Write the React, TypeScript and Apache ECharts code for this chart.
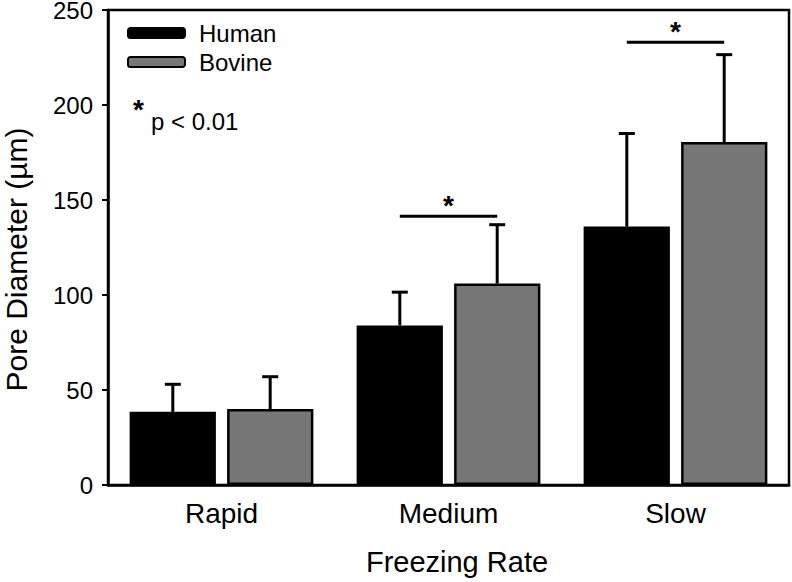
import React, { useEffect, useRef } from "react";
import * as echarts from "echarts";

const categories = ["Rapid", "Medium", "Slow"];
const humanMean = [38.5, 84, 136];
const humanErr = [14.5, 17.5, 49];
const bovineMean = [40, 106, 180.5];
const bovineErr = [17, 31, 46];
const sigCategory = [1, 2];
const sigLevel = [141.5, 233];
const yTicks = { min: 0, max: 250, interval: 50 };

const FONT = "'Liberation Sans', Arial, Helvetica, sans-serif";
const OFFSET = 0.2145;

function errorSeries(name: string, means: number[], errs: number[], sign: number) {
  return {
    type: "custom",
    name: name + " err",
    z: 5,
    silent: true,
    data: means.map((m, i) => [i, m, errs[i]]),
    renderItem: (params: any, api: any) => {
      const x = api.value(0);
      const v = api.value(1);
      const e = api.value(2);
      const base = api.coord([x, v]);
      const top = api.coord([x, v + e]);
      const band = api.size([1, 0])[0];
      const cx = base[0] + sign * band * OFFSET;
      const st = { stroke: "#000", lineWidth: 3 };
      return {
        type: "group",
        children: [
          { type: "line", shape: { x1: cx, y1: base[1], x2: cx, y2: top[1] }, style: st },
          { type: "line", shape: { x1: cx - 8, y1: top[1], x2: cx + 8, y2: top[1] }, style: st },
        ],
      };
    },
  };
}

export default function App() {
  const ref = useRef<HTMLDivElement>(null);
  useEffect(() => {
    document.body.style.margin = "0";
    const chart = echarts.init(ref.current!, undefined, { renderer: "svg" });
    chart.setOption({
      animation: false,
      backgroundColor: "#fff",
      textStyle: { fontFamily: FONT, color: "#000" },
      grid: {
        left: 108,
        right: 3,
        top: 10,
        bottom: 97,
        show: true,
        borderColor: "#000",
        borderWidth: 2.5,
        containLabel: false,
        outerBoundsMode: "none",
      },
      legend: {
        data: ["Human", "Bovine"],
        orient: "vertical",
        left: 127,
        top: 21,
        padding: 0,
        icon: "roundRect",
        itemWidth: 57,
        itemHeight: 10,
        itemGap: 5,
        textStyle: { fontFamily: FONT, fontSize: 24, color: "#000", padding: [0, 0, 0, 9], lineHeight: 24 },
      },
      xAxis: {
        type: "category",
        data: categories,
        name: "Freezing Rate",
        nameLocation: "middle",
        nameGap: 62,
        nameTextStyle: { fontFamily: FONT, fontSize: 29, color: "#000", padding: [0, 0, 0, 17] },
        axisLine: { lineStyle: { color: "#000", width: 2.5 } },
        axisTick: { alignWithLabel: true, length: 7, lineStyle: { color: "#000", width: 2 } },
        axisLabel: { fontFamily: FONT, fontSize: 28, color: "#000", margin: 14 },
      },
      yAxis: {
        type: "value",
        min: yTicks.min,
        max: yTicks.max,
        interval: yTicks.interval,
        name: "Pore Diameter (\u00b5m)",
        nameLocation: "middle",
        nameGap: 78,
        nameTextStyle: { fontFamily: FONT, fontSize: 30, lineHeight: 28, color: "#000", padding: [0, 24, 0, 0] },
        axisLine: { show: true, lineStyle: { color: "#000", width: 2.5 } },
        axisTick: { show: true, length: 6, lineStyle: { color: "#000", width: 2 } },
        axisLabel: { fontFamily: FONT, fontSize: 24, lineHeight: 20, color: "#000", margin: 15 },
        splitLine: { show: false },
      },
      series: [
        {
          type: "bar",
          name: "Human",
          data: humanMean,
          barWidth: "38%",
          barGap: "13%",
          itemStyle: { color: "#000", borderColor: "#000", borderWidth: 2.5 },
        },
        {
          type: "bar",
          name: "Bovine",
          data: bovineMean,
          barWidth: "38%",
          barGap: "13%",
          itemStyle: { color: "#777777", borderColor: "#000", borderWidth: 2.5 },
        },
        errorSeries("Human", humanMean, humanErr, -1),
        errorSeries("Bovine", bovineMean, bovineErr, 1),
        {
          type: "custom",
          name: "significance",
          z: 6,
          silent: true,
          data: sigCategory.map((c, i) => [c, sigLevel[i]]),
          renderItem: (params: any, api: any) => {
            const p = api.coord([api.value(0), api.value(1)]);
            const band = api.size([1, 0])[0];
            const x1 = p[0] - band * OFFSET;
            const x2 = p[0] + band * OFFSET;
            return {
              type: "group",
              children: [
                { type: "line", shape: { x1, y1: p[1], x2, y2: p[1] }, style: { stroke: "#000", lineWidth: 3 } },
                {
                  type: "text",
                  x: p[0],
                  y: p[1] - 25,
                  style: {
                    text: "*",
                    fontFamily: FONT,
                    fontSize: 28,
                    fontWeight: "bold",
                    fill: "#000",
                    align: "center",
                    verticalAlign: "top",
                  },
                },
              ],
            };
          },
        },
      ],
      graphic: [
        {
          type: "text",
          left: 133,
          top: 95,
          style: { text: "*", fontFamily: FONT, fontSize: 28, fontWeight: "bold", fill: "#000" },
        },
        {
          type: "text",
          left: 151,
          top: 109,
          style: { text: "p < 0.01", fontFamily: FONT, fontSize: 24, fill: "#000" },
        },
      ],
    });
    return () => chart.dispose();
  }, []);
  return <div ref={ref} style={{ width: 792, height: 582 }} />;
}
